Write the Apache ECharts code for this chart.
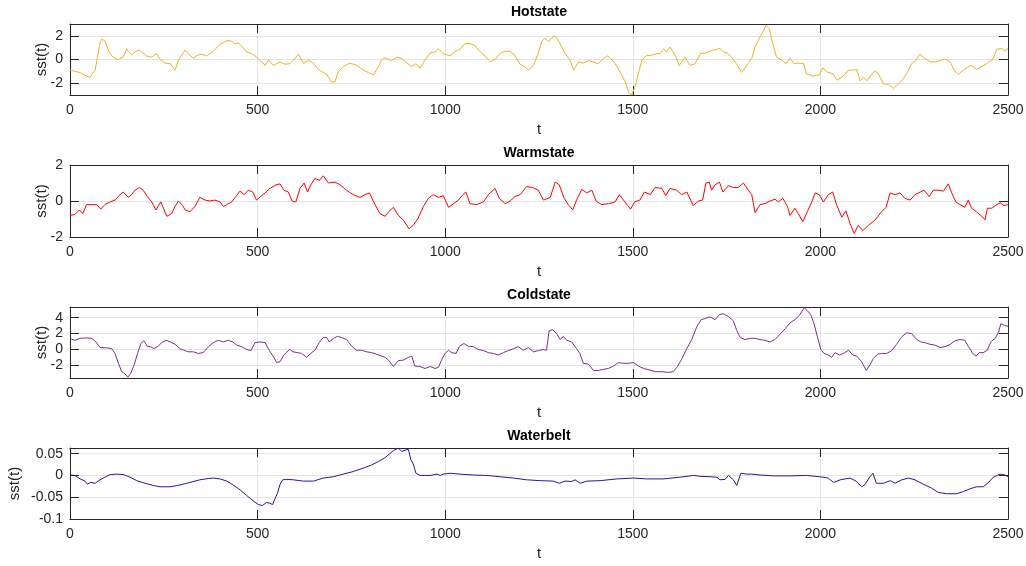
<!DOCTYPE html>
<html>
<head>
<meta charset="utf-8">
<script src="https://cdn.jsdelivr.net/npm/echarts@6/dist/echarts.min.js"></script>
<style>
  html, body { margin: 0; padding: 0; background: #fff; }
  #chart1 { width: 1026px; height: 566px; }
</style>
</head>
<body>
<div id="chart1"></div>
<script>
// values (t, sst)
var hotT = [0,18,27,44,53,58,67,73,80,84,93,102,111,120,129,142,151,155,164,173,184,195,204,218,231,240,253,267,280,289,306,315,329,338,351,364,382,400,418,431,440,449,460,471,484,497,511,520,529,542,560,573,586,600,609,622,635,649,662,675,684,697,706,715,728,746,764,782,795,809,822,831,840,
    848,857,871,884,898,911,922,933,946,960,973,982,995,1013,1026,1040,1053,1066,1080,1093,1106,1120,1133,1146,1160,1173,1186,1199,1211,1222,1235,1248,1257,1266,1275,1284,1293,1306,1319,1333,1342,1355,1368,1382,1395,1408,1422,1433,1440,1453,1466,1480,1489,1497,1506,1515,1524,1537,1550,1564,1573,1582,1590,1599,1613,1624,1639,1653,1666,
    1680,1693,1701,1715,1724,1732,1741,1754,1768,1781,1790,1795,1808,1817,1826,1839,1848,1855,1864,1873,1883,1897,1908,1919,1930,1941,1955,1963,1981,1997,2006,2017,2033,2045,2061,2075,2088,2097,2106,2115,2124,2138,2146,2155,2168,2182,2195,2208,2219,2230,2243,2255,2265,2278,2292,2310,2323,2335,2346,2356,2367,2381,2394,2403,2416,2430,2443,2450,2459,2470,2483,2492,2500];
var hotV = [-0.9,-1.04,-1.1,-1.4,-1.5,-1.45,-0.9,0.2,1.4,1.7,1.6,0.8,0.3,0.1,0,0.2,0.9,0.7,0.4,0.65,0.8,0.55,0.3,0.2,0.5,0,-0.3,-0.35,-0.9,-0.05,0.8,0.5,0.1,0.35,0.45,0.3,0.7,1.3,1.6,1.55,1.3,1.4,1.05,0.65,0.5,0.2,-0.2,-0.5,-0.05,-0.5,-0.2,-0.4,-0.35,0.1,0.45,-0.35,-0.05,-0.3,-0.85,-1.1,-1.25,-1.9,-1.9,-1.05,-0.6,-0.3,-0.5,-0.9,-1.1,-1.3,-0.6,0,0.15,
    0,-0.1,0.2,0.1,-0.3,-0.6,-0.35,-0.75,-0.05,0.55,0.65,0.9,0.5,0.3,0.65,0.9,1.35,1.35,1.15,0.65,0.3,-0.2,0,0.5,0.7,0.7,0.35,-0.4,-0.6,-0.9,-0.5,0.5,1.5,1.8,1.5,1.8,2.0,1.35,0.5,-0.05,-0.9,-0.2,-0.3,-0.1,-0.2,-0.35,0.1,0.3,0.15,-0.35,-1.05,-1.9,-2.8,-3.0,-2.3,-1.2,-0.05,0.35,0.35,0.5,0.5,0.9,0.65,1.05,0.35,-0.5,0.2,-0.5,-0.35,0.5,
    0.55,0.65,0.8,0.85,0.95,0.65,0.5,0,-0.6,-1.1,-0.9,-0.3,0.1,1.05,1.9,2.4,2.9,2.6,1.35,0.2,-0.05,-0.35,0.1,-0.35,-0.3,-0.35,-1.2,-1.4,-1.3,-0.7,-1.05,-1.2,-1.75,-1.4,-0.9,-0.9,-0.85,-1.8,-1.5,-1.8,-1.2,-0.95,-1.25,-2.05,-2.1,-2.45,-2.05,-1.7,-1.2,-0.35,-0.05,0.45,0.1,-0.2,-0.2,-0.05,0,-0.2,-0.9,-1.25,-0.9,-0.6,-0.5,-0.85,-0.6,-0.35,-0.2,0,0.85,0.95,0.7,0.95,1.3];

var warmT = [0,13,25,34,44,58,71,82,93,107,120,131,142,155,164,173,185,195,206,218,229,242,249,258,271,280,289,300,307,320,333,346,360,373,386,400,409,418,431,442,453,464,475,487,497,508,520,533,549,560,570,582,592,602,613,624,633,642,653,665,675,689,706,720,737,755,773,786,798,813,826,
    840,849,862,875,888,904,915,928,942,955,968,982,995,1009,1022,1035,1047,1055,1066,1084,1102,1115,1133,1144,1160,1173,1186,1200,1217,1233,1248,1262,1280,1293,1304,1317,1328,1340,1350,1364,1377,1391,1402,1417,1435,1453,1464,1479,1494,1505,1519,1531,1547,1559,1577,1588,1599,1617,1630,1644,1661,1675,1686,
    1695,1704,1710,1719,1731,1740,1755,1768,1781,1795,1808,1817,1826,1839,1852,1866,1879,1888,1900,1912,1919,1932,1941,1953,1965,1977,1986,1997,2008,2021,2033,2043,2057,2068,2079,2090,2101,2113,2128,2146,2163,2175,2186,2199,2212,2225,2239,2252,2266,2276,2290,2301,2314,2328,2341,2350,2361,2372,2385,2394,2403,2416,2430,2439,2445,2457,2470,2479,2489,2500];
var warmV = [-0.8,-0.75,-0.5,-0.7,-0.2,-0.2,-0.2,-0.45,-0.2,-0.05,0.05,0.3,0.5,0.2,0.35,0.6,0.75,0.6,0.25,-0.05,-0.5,-0.05,-0.4,-0.85,-0.7,-0.3,0,-0.25,-0.5,-0.6,-0.3,0.2,0.05,0,0.05,-0.05,-0.3,-0.2,-0.05,0.25,0.55,0.35,0.6,0.5,0.05,0.25,0.45,0.7,0.9,0.95,0.6,0.5,0,-0.05,0.7,1.0,0.5,0.9,1.25,1.15,1.4,1.0,1.05,0.9,0.6,0.35,0.2,0.35,0.45,-0.2,-0.7,
    -0.85,-0.6,-0.35,-0.8,-1.05,-1.55,-1.35,-0.95,-0.3,0.15,0.35,0.2,0.3,-0.35,-0.15,0.05,0.35,0.5,-0.15,-0.2,-0.05,0.35,0.7,0.15,-0.15,0,0.25,0.35,0.8,0.75,0.6,0.05,0.2,1.05,0.9,0.15,-0.2,-0.5,0.05,0.65,0.45,0.6,0,-0.2,-0.15,-0.05,0.35,-0.05,-0.45,-0.05,0.05,0.5,0.35,0.75,0.7,0.3,0.7,0.6,0.35,0.5,-0.25,0,0.05,
    1.0,1.05,0.6,0.9,1.05,0.5,0.85,0.75,0.75,1.0,0.6,0.35,-0.65,-0.2,-0.15,0,0.1,-0.05,0.15,-0.3,-0.8,-0.4,-0.7,-1.15,-0.6,-0.05,0.45,0.35,-0.05,0.35,0.5,-0.2,-0.9,-0.55,-1.25,-1.8,-1.35,-1.65,-1.35,-1.05,-0.6,-0.35,0.45,0.35,0.45,0.15,0.05,0.35,0.5,0.6,0.25,0.6,0.6,0.55,0.95,0.45,-0.05,-0.2,-0.35,0.05,-0.4,-0.6,-0.85,-1.05,-0.4,-0.4,-0.2,-0.1,-0.25,-0.2];

var coldT = [0,13,27,44,58,69,80,98,111,120,129,138,147,154,162,171,180,189,197,206,215,224,235,244,256,267,280,293,304,315,329,342,355,369,382,395,409,422,434,444,458,471,482,493,506,520,531,542,551,560,570,585,595,606,617,631,641,653,664,675,684,691,702,713,724,737,751,764,777,791,804,817,831,840,
    849,862,875,888,902,911,919,933,946,960,973,982,991,1000,1009,1017,1029,1038,1050,1062,1075,1088,1102,1115,1128,1141,1155,1168,1182,1195,1208,1222,1235,1248,1262,1270,1277,1286,1297,1306,1315,1324,1337,1350,1359,1368,1382,1395,1408,1422,1435,1448,1462,1475,1488,1502,1515,1529,1546,1560,1577,1595,1608,1619,1630,1644,1657,1671,1682,
    1693,1704,1710,1719,1731,1741,1755,1768,1777,1786,1799,1813,1826,1839,1852,1866,1879,1892,1906,1919,1932,1944,1957,1965,1974,1983,1992,2001,2010,2021,2030,2039,2051,2061,2075,2086,2097,2110,2122,2132,2141,2152,2163,2177,2190,2203,2217,2230,2243,2257,2267,2279,2292,2305,2319,2332,2346,2359,2372,2385,2394,2406,2415,2423,2434,2445,2454,2466,2475,2481,2490,2500];
var coldV = [1.4,1.15,1.4,1.45,1.4,0.95,0.25,0.2,0.1,-0.5,-1.75,-2.8,-3.1,-3.5,-3.0,-1.95,-0.5,0.75,1.1,0.4,0.35,0.1,0.4,0.85,1.15,0.95,0.65,0.1,-0.1,-0.3,-0.3,-0.5,-0.4,0.35,0.85,1.15,0.95,1.15,0.95,0.55,0.35,0,-0.15,0.85,0.95,0.85,-0.1,-0.9,-1.65,-1.55,-0.7,0,-0.3,-0.4,-0.5,-1.0,-0.5,-0.1,0.85,1.5,1.5,0.95,1.4,1.65,1.5,1.25,0.4,-0.1,-0.1,-0.3,-0.4,-0.6,-0.85,-1.0,
    -1.35,-2.15,-1.4,-1.35,-1.0,-0.85,-2.1,-2.15,-2.4,-2.15,-2.4,-2.25,-1.25,-0.5,-0.1,-0.4,-0.5,0.4,0.75,0.4,0.35,0,-0.15,-0.4,-0.5,-0.7,-0.4,-0.15,0.1,0.35,-0.1,0.25,-0.3,-0.15,0,-0.1,2.35,2.5,2.0,1.25,1.65,1.15,0.95,0.1,-0.5,-1.75,-1.85,-2.65,-2.65,-2.5,-2.4,-2.1,-1.65,-1.75,-1.75,-1.65,-2.1,-2.4,-2.6,-2.8,-2.8,-2.9,-2.8,-2.15,-1.25,0.1,1.25,2.9,3.75,
    3.9,4.1,4.0,3.75,4.4,4.5,4.15,3.6,2.4,1.5,1.25,1.4,1.4,1.25,1.15,0.95,1.25,1.9,2.6,3.35,3.75,4.3,5.25,4.9,4.4,3.25,1.6,0,-0.5,-0.7,-1.0,-0.4,-0.7,-0.5,-0.1,-0.7,-0.85,-1.55,-2.65,-1.95,-1.15,-0.6,-0.5,-0.5,-0.15,0.65,1.6,2.1,2.0,1.25,0.95,0.85,0.65,0.55,0.25,0.35,0.65,1.1,1.25,1.15,0.4,-0.5,-0.85,-0.4,-0.4,-0.1,0.95,1.4,2.2,3.25,3.05,2.9];

var waterT = [0,13,27,40,46,55,67,80,93,107,124,142,160,178,200,222,240,267,293,320,346,369,382,400,418,435,453,471,489,502,513,524,533,540,546,553,560,567,578,595,622,649,675,702,728,755,782,804,822,840,
    851,862,875,884,893,902,908,915,922,933,960,978,987,995,1013,1040,1075,1111,1146,1182,1217,1253,1288,1304,1319,1337,1346,1360,1378,1413,1457,1502,1537,1581,1626,1662,1679,
    1706,1724,1732,1746,1755,1768,1777,1788,1804,1817,1839,1875,1919,1963,1998,2021,2035,2053,2079,2095,2110,2119,2131,2140,2149,2168,2186,2199,2217,2235,2252,2274,2296,2314,2336,2363,2381,2398,2416,2434,2448,2461,2479,2492,2500];
var waterV = [0.001,0,-0.008,-0.013,-0.02,-0.016,-0.018,-0.01,-0.004,0.002,0.003,0.002,-0.004,-0.012,-0.018,-0.023,-0.026,-0.026,-0.022,-0.016,-0.01,-0.007,-0.006,-0.008,-0.013,-0.022,-0.033,-0.046,-0.059,-0.067,-0.069,-0.062,-0.064,-0.067,-0.054,-0.041,-0.02,-0.01,-0.009,-0.01,-0.013,-0.013,-0.006,-0.003,0.003,0.009,0.017,0.024,0.032,0.041,
    0.049,0.057,0.063,0.055,0.058,0.06,0.037,0.026,0.005,0,0,0.003,0,0.003,0.005,0.003,0.001,0,-0.003,-0.006,-0.01,-0.012,-0.013,-0.018,-0.013,-0.014,-0.01,-0.018,-0.013,-0.012,-0.008,-0.006,-0.008,-0.008,-0.004,0,-0.002,
    -0.003,-0.004,-0.01,-0.009,0,-0.01,-0.023,0.005,0.003,0.003,0.001,-0.001,-0.001,0,-0.003,-0.006,-0.016,-0.01,-0.006,-0.013,-0.026,-0.021,-0.004,0.005,-0.018,-0.018,-0.012,-0.018,-0.01,-0.006,-0.01,-0.02,-0.029,-0.039,-0.042,-0.042,-0.037,-0.031,-0.026,-0.026,-0.016,-0.004,0.003,0.001,-0.003];

var titles = ['Hotstate', 'Warmstate', 'Coldstate', 'Waterbelt'];
var yTicks = [[-2, 0, 2], [-2, 0, 2], [-2, 0, 2, 4], [-0.1, -0.05, 0, 0.05]];

function pairs(ts, vs) {
    var out = [];
    for (var i = 0; i < ts.length; i++) out.push([ts[i], vs[i]]);
    return out;
}

var seriesData = [pairs(hotT, hotV), pairs(warmT, warmV), pairs(coldT, coldV), pairs(waterT, waterV)];
var colors = ['#EDB120', '#FF0000', '#7E2F8E', '#1B1BA8'];
var tops = [24, 165, 307, 448];
var heights = [71, 72, 71, 71];
var yMin = [-3, -2, -3.6, -0.1];
var yMax = [3, 2, 5.35, 0.063];
var yNameGap = [21, 21, 21, 48];

var font = 'Liberation Sans, Arial, Helvetica, sans-serif';
var axisCol = '#262626';

var myChart = echarts.init(document.getElementById('chart1'));
var option = {
    animation: false,
    backgroundColor: '#fff',
    title: [], grid: [], xAxis: [], yAxis: [], series: []
};

for (var i = 0; i < 4; i++) {
    option.title.push({
        text: titles[i], left: 539, top: tops[i] - 19, textAlign: 'center', padding: 0,
        textStyle: {fontFamily: font, fontSize: 14, fontWeight: 'bold', color: '#000'}
    });
    option.grid.push({left: 70, right: 18, top: tops[i], height: heights[i], outerBoundsMode: 'none', containLabel: false});
    // bottom x axis with labels
    option.xAxis.push({
        type: 'value', gridIndex: i, min: 0, max: 2500, interval: 500, position: 'bottom',
        name: 't', nameLocation: 'middle', nameGap: 27, nameMoveOverlap: false,
        nameTextStyle: {fontFamily: font, fontSize: 15, color: axisCol},
        axisLine: {show: true, onZero: false, lineStyle: {color: axisCol, width: 1}},
        axisTick: {show: true, inside: true, length: 9, lineStyle: {color: axisCol}},
        axisLabel: {fontFamily: font, fontSize: 14, color: axisCol, margin: 8,
            formatter: function (v) { return String(v); }},
        splitLine: {show: true, lineStyle: {color: '#e5e5e5', width: 1}}
    });
    // top x axis, ticks only
    option.xAxis.push({
        type: 'value', gridIndex: i, min: 0, max: 2500, interval: 500, position: 'top',
        axisLine: {show: true, onZero: false, lineStyle: {color: axisCol, width: 1}},
        axisTick: {show: true, inside: true, length: 9, lineStyle: {color: axisCol}},
        axisLabel: {show: false}, splitLine: {show: false}
    });
    option.yAxis.push({
        type: 'value', gridIndex: i, min: yMin[i], max: yMax[i], position: 'left',
        name: 'sst(t)', nameLocation: 'middle', nameGap: yNameGap[i], nameMoveOverlap: false,
        nameTextStyle: {fontFamily: font, fontSize: 15, color: axisCol},
        axisLine: {show: true, onZero: false, lineStyle: {color: axisCol, width: 1}},
        axisTick: {show: true, inside: true, length: 9, customValues: yTicks[i], lineStyle: {color: axisCol}},
        axisLabel: {fontFamily: font, fontSize: 14, color: axisCol, margin: 7, customValues: yTicks[i], showMinLabel: true, showMaxLabel: true,
            formatter: function (v) { return String(v); }},
        splitLine: {show: true, lineStyle: {color: '#e5e5e5', width: 1}}
    });
    option.yAxis.push({
        type: 'value', gridIndex: i, min: yMin[i], max: yMax[i], position: 'right',
        axisLine: {show: true, onZero: false, lineStyle: {color: axisCol, width: 1}},
        axisTick: {show: true, inside: true, length: 9, customValues: yTicks[i], lineStyle: {color: axisCol}},
        axisLabel: {show: false}, splitLine: {show: false}
    });
    option.series.push({
        type: 'line', xAxisIndex: i * 2, yAxisIndex: i * 2, data: seriesData[i],
        showSymbol: false, symbol: 'none', lineStyle: {color: colors[i], width: 1}
    });
}

myChart.setOption(option);
</script>
</body>
</html>
